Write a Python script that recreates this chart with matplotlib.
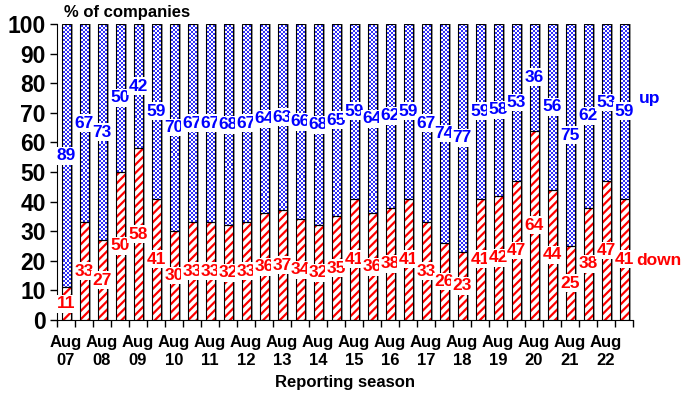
import numpy as np
import matplotlib
matplotlib.use('Agg')
import matplotlib.pyplot as plt
from matplotlib.colors import ListedColormap

plt.rcParams['font.family'] = ['Liberation Sans', 'DejaVu Sans']
plt.rcParams['font.weight'] = 'bold'
plt.rcParams['hatch.linewidth'] = 1.6

# Reporting seasons, Aug 07 to Feb 23
seasons = ['Aug 07', 'Feb 08', 'Aug 08', 'Feb 09', 'Aug 09', 'Feb 10', 'Aug 10', 'Feb 11',
           'Aug 11', 'Feb 12', 'Aug 12', 'Feb 13', 'Aug 13', 'Feb 14', 'Aug 14', 'Feb 15',
           'Aug 15', 'Feb 16', 'Aug 16', 'Feb 17', 'Aug 17', 'Feb 18', 'Aug 18', 'Feb 19',
           'Aug 19', 'Feb 20', 'Aug 20', 'Feb 21', 'Aug 21', 'Feb 22', 'Aug 22', 'Feb 23']
# % of companies with earnings down / up
down = [11, 33, 27, 50, 58, 41, 30, 33, 33, 32, 33, 36, 37, 34, 32, 35,
        41, 36, 38, 41, 33, 26, 23, 41, 42, 47, 64, 44, 25, 38, 47, 41]
up = [89, 67, 73, 50, 42, 59, 70, 67, 67, 68, 67, 64, 63, 66, 68, 65,
      59, 64, 62, 59, 67, 74, 77, 59, 58, 53, 36, 56, 75, 62, 53, 59]

fig = plt.figure(figsize=(6.81, 3.96), dpi=100)
ax = fig.add_axes([57/681, 76/396, 576/681, 296/396])

x = np.arange(len(seasons))
w = 0.5
total = np.add(down, up)

# grey drop shadow behind each column
ax.bar(x + 0.12, total, w, color='#9a9a9a', lw=0, zorder=1)

# down: red diagonal stripes
ax.bar(x, down, w, color='white', edgecolor='red', hatch='////', lw=0, zorder=2)
ax.bar(x, down, w, fill=False, edgecolor='black', lw=0.8, zorder=3)

# up: blue checkerboard clipped to each bar
up_bars = ax.bar(x, up, w, bottom=down, color='none', lw=0, zorder=2)
rows, cols = np.indices((148, 288))
checker = (rows + cols) % 2
cmap = ListedColormap(['white', '#2f2ff5'])
for patch in up_bars:
    im = ax.imshow(checker, cmap=cmap, extent=(-0.5, 31.5, 0, 100), aspect='auto',
                   interpolation='nearest', zorder=2)
    im.set_clip_path(patch)
ax.bar(x, up, w, bottom=down, fill=False, edgecolor='black', lw=0.8, zorder=3)

box = dict(boxstyle='square,pad=0.08', fc='white', ec='none')
for i in range(len(seasons)):
    ax.text(x[i], down[i] / 2, str(down[i]), color='red', ha='center', va='center',
            fontsize=12.5, fontweight='bold', bbox=box, zorder=4)
    ax.text(x[i], down[i] + up[i] / 2, str(up[i]), color='#0000ff', ha='center',
            va='center', fontsize=12.5, fontweight='bold', bbox=box, zorder=4)

ax.text(31.85, 75, 'up', color='#0000ff', fontsize=12.5, fontweight='bold',
        ha='left', va='center', clip_on=False)
ax.text(31.7, 20, 'down', color='red', fontsize=12.5, fontweight='bold',
        ha='left', va='center', clip_on=False)

ax.set_xlim(-0.5, 31.5)
ax.set_ylim(0, 100)
ax.set_yticks(np.arange(0, 101, 10))
ax.tick_params(axis='y', labelsize=16.5, length=5, width=1, pad=3)
for t in ax.get_yticklabels():
    t.set_fontweight('bold')

ax.set_xticks(x[::2])
ax.set_xticklabels([s.replace(' ', '\n') for s in seasons[::2]], fontsize=12,
                   fontweight='bold', linespacing=1.25)
ax.set_xticks(np.arange(-0.5, 32, 1), minor=True)
ax.tick_params(axis='x', which='major', length=0, pad=11)
ax.tick_params(axis='x', which='minor', length=5, width=1)

for side in ['top', 'right']:
    ax.spines[side].set_visible(False)

fig.text(64/681, 1 - 12/396, '% of companies', fontsize=12, fontweight='bold',
         ha='left', va='center')
fig.text(345/681, 1 - 382/396, 'Reporting season', fontsize=12, fontweight='bold',
         ha='center', va='center')

fig.savefig('out.png', dpi=100)
